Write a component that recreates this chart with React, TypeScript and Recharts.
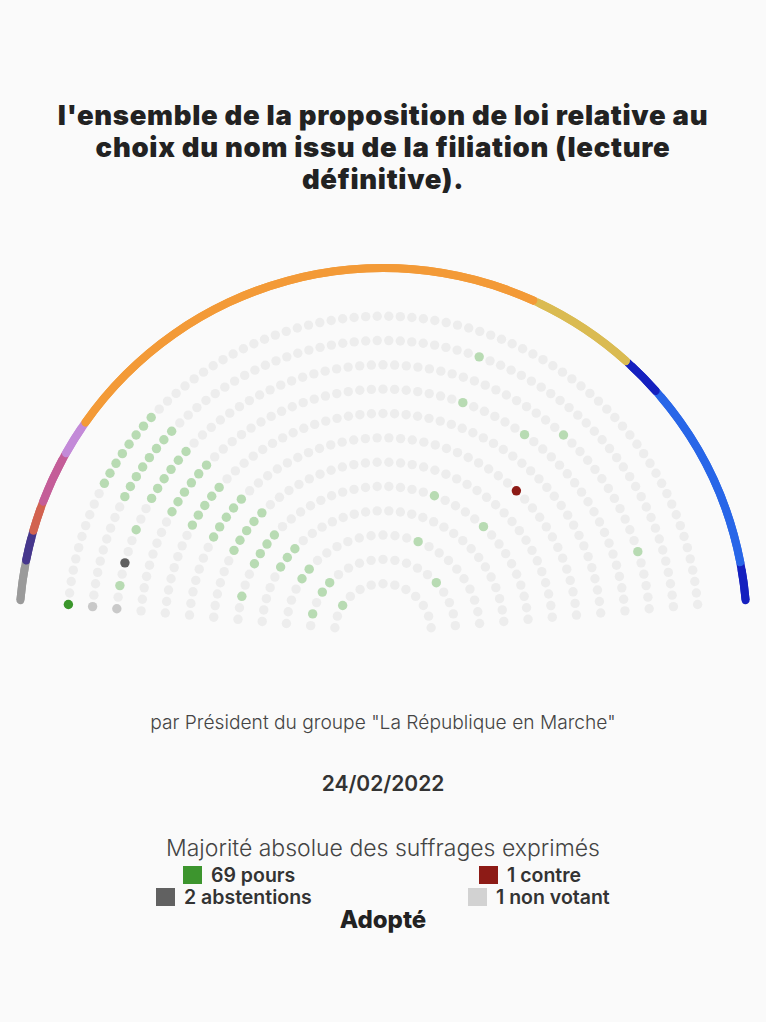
import React from 'react';
import { PieChart, Pie, Cell } from 'recharts';

// ---- Data ----
const groupNames = ['NI', 'GDR', 'LFI', 'SOC', 'LT', 'LREM', 'MODEM', 'AGIR', 'LR', 'UDI'];
const groupSeats = [21, 16, 16, 28, 19, 267, 58, 22, 101, 20];
const groupColors = ['#9a9a9a', '#46378c', '#d2624f', '#c45d98', '#c38ad8', '#f39a37', '#dabb52', '#1520bf', '#2866e8', '#1520bf'];

// seats per row, outer row first
const rowSeatCounts = [82, 76, 69, 63, 57, 50, 44, 38, 32, 25, 19, 13];

// seat indices (per row, counted from the left end) for each vote
const pourSeats: number[][] = [
  [11, 12, 13, 14, 15, 16, 17, 18],
  [10, 11, 12, 13, 14, 15, 16, 17, 46],
  [2, 7, 10, 11, 12, 13, 14, 15, 51, 63],
  [9, 10, 11, 12, 13, 14, 38, 44],
  [8, 9, 10, 11, 12],
  [7, 8, 9, 10, 11],
  [6, 7, 8, 9, 10],
  [2, 5, 6, 7, 8, 23, 28],
  [5, 6, 7],
  [4, 5, 15],
  [1, 3, 4, 14],
  [2],
];
const pourHighlightSeats: number[][] = [[0], [], [], [], [], [], [], [], [], [], [], []];
const contreSeats: number[][] = [[], [], [], [], [], [37], [], [], [], [], [], []];
const abstentionSeats: number[][] = [[], [], [4], [], [], [], [], [], [], [], [], []];
const nonVotantSeats: number[][] = [[], [0], [0], [], [], [], [], [], [], [], [], []];

const titleLines = [
  "l'ensemble de la proposition de loi relative au",
  'choix du nom issu de la filiation (lecture',
  'définitive).',
];
const subtitle = 'par Président du groupe "La République en Marche"';
const dateLabel = '24/02/2022';
const majorityLabel = 'Majorité absolue des suffrages exprimés';
const legendItems = [
  { label: '69 pours', color: '#3d952e' },
  { label: '1 contre', color: '#8d1b16' },
  { label: '2 abstentions', color: '#616161' },
  { label: '1 non votant', color: '#d2d2d2' },
];
const resultLabel = 'Adopté';

// ---- Styles / layout ----
const W = 766;
const CX = 383;
const CY = 632;
const INNER_R = 48.3;
const ROW_GAP = 24.32;
const START = 175;
const END = 5;
const DOT_R = 4.7;
const ARC_R = 364;
const ARC_W = 8;
const COLORS = {
  absent: '#ededed',
  pour: '#b8dbb3',
  pourHi: '#3a962b',
  contre: '#8d1b16',
  abstention: '#5f5f5f',
  nonVotant: '#c9c9c9',
};
const FONT = 'Inter, Roboto, sans-serif';
const RAD = Math.PI / 180;

const rowData = rowSeatCounts.map((n, ri) =>
  Array.from({ length: n }, (_, j) => {
    let color = COLORS.absent;
    if (pourSeats[ri].includes(j)) color = COLORS.pour;
    if (pourHighlightSeats[ri].includes(j)) color = COLORS.pourHi;
    if (contreSeats[ri].includes(j)) color = COLORS.contre;
    if (abstentionSeats[ri].includes(j)) color = COLORS.abstention;
    if (nonVotantSeats[ri].includes(j)) color = COLORS.nonVotant;
    return { seat: j, value: 1, color };
  })
);

const groupData = groupNames.map((name, i) => ({ name, value: groupSeats[i] }));

function makeSeatLabel(ri: number) {
  return (props: any) => {
    const { cx, cy, midAngle, innerRadius, outerRadius, index } = props;
    const r = (innerRadius + outerRadius) / 2;
    const x = cx + r * Math.cos(-midAngle * RAD);
    const y = cy + r * Math.sin(-midAngle * RAD);
    return <circle key={`s-${ri}-${index}`} cx={x} cy={y} r={DOT_R} fill={rowData[ri][index].color} />;
  };
}

export default function App() {
  const capDeg = (ARC_W / 2 / ARC_R) * (180 / Math.PI);
  return (
    <div style={{ position: 'relative', width: W, height: 1022, background: '#fafafa', overflow: 'hidden' }}>
      <style>{'body{margin:0;background:#fafafa;}'}</style>
      <div style={{ position: 'absolute', left: 0, top: 0 }}>
        <PieChart width={W} height={680} margin={{ top: 0, right: 0, bottom: 0, left: 0 }}>
          <Pie
            data={groupData}
            dataKey="value"
            cx={CX}
            cy={CY}
            startAngle={START}
            endAngle={END}
            innerRadius={ARC_R - ARC_W / 2}
            outerRadius={ARC_R + ARC_W / 2}
            stroke="none"
            isAnimationActive={false}
          >
            {groupData.map((g, i) => (
              <Cell key={g.name} fill={groupColors[i]} />
            ))}
          </Pie>
          <Pie
            data={groupData}
            dataKey="value"
            cx={CX}
            cy={CY}
            startAngle={START + capDeg}
            endAngle={END - capDeg}
            innerRadius={ARC_R - ARC_W / 2}
            outerRadius={ARC_R + ARC_W / 2}
            cornerRadius={ARC_W / 2}
            stroke="none"
            isAnimationActive={false}
          >
            {groupData.map((g, i) => (
              <Cell key={g.name} fill={groupColors[i]} />
            ))}
          </Pie>
          {rowSeatCounts.map((n, ri) => {
            const radius = INNER_R + ROW_GAP * (rowSeatCounts.length - 1 - ri);
            const half = (START - END) / (n - 1) / 2;
            return (
              <Pie
                key={`row-${ri}`}
                data={rowData[ri]}
                dataKey="value"
                cx={CX}
                cy={CY}
                startAngle={START + half}
                endAngle={END - half}
                innerRadius={radius - 0.5}
                outerRadius={radius + 0.5}
                fill="none"
                stroke="none"
                isAnimationActive={false}
                labelLine={false}
                label={makeSeatLabel(ri)}
              />
            );
          })}
        </PieChart>
      </div>
      <svg width={W} height={1022} style={{ position: 'absolute', left: 0, top: 0, pointerEvents: 'none' }}>
        {titleLines.map((t, i) => (
          <text key={i} x={CX} y={125 + i * 32} textAnchor="middle" fontFamily={FONT} fontWeight={900} fontSize={27.5} letterSpacing={0.7} fill="#222">
            {t}
          </text>
        ))}
        <text x={CX} y={729} textAnchor="middle" fontFamily={FONT} fontWeight={300} fontSize={19.2} fill="#444">
          {subtitle}
        </text>
        <text x={CX} y={791} textAnchor="middle" fontFamily={FONT} fontWeight={600} fontSize={21} fill="#333">
          {dateLabel}
        </text>
        <text x={CX} y={856} textAnchor="middle" fontFamily={FONT} fontWeight={300} fontSize={23} fill="#444">
          {majorityLabel}
        </text>
        {[
          { x: 183, y: 866 },
          { x: 479, y: 866 },
          { x: 156, y: 888 },
          { x: 468, y: 888 },
        ].map((p, i) => (
          <g key={i}>
            <rect x={p.x} y={p.y} width={19} height={18} fill={legendItems[i].color} />
            <text x={p.x + 28} y={p.y + 16} fontFamily={FONT} fontWeight={600} fontSize={19.5} fill="#333">
              {legendItems[i].label}
            </text>
          </g>
        ))}
        <text x={CX} y={928} textAnchor="middle" fontFamily={FONT} fontWeight={800} fontSize={24} fill="#222">
          {resultLabel}
        </text>
      </svg>
    </div>
  );
}
